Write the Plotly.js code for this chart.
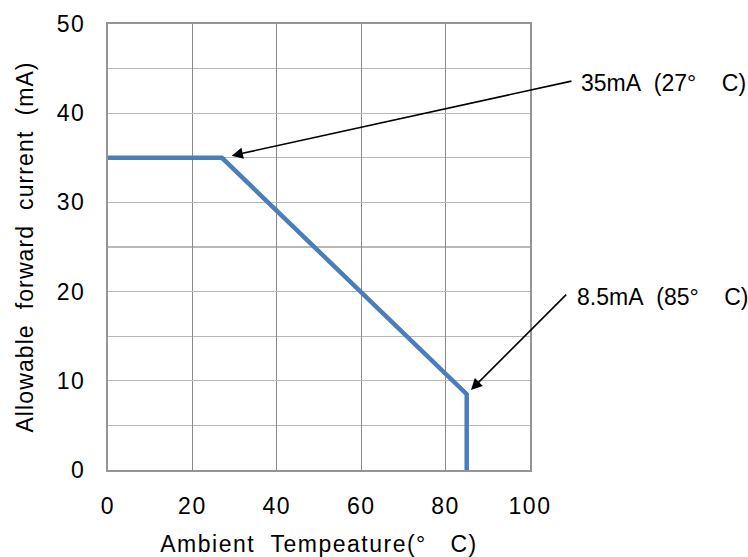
<!DOCTYPE html>
<html>
<head>
<meta charset="utf-8">
<script src="https://cdn.plot.ly/plotly-3.0.1.min.js"></script>
<style>
html,body{margin:0;padding:0;background:#fff;}
#chart{width:748px;height:557px;}
#chart .xtick text, #chart .ytick text, #chart .xtitle {letter-spacing:1.5px;}
#chart .ytitle {letter-spacing:1.1px;}
</style>
</head>
<body>
<div id="chart"></div>
<script>
// Derating curve data
const temperature = [0, 27, 85, 85];
const current = [35, 35, 8.5, 0];

const xTickVals = [0, 20, 40, 60, 80, 100];
const yTickVals = [0, 10, 20, 30, 40, 50];

const calloutText = ['35mA\u00a0 (27°\u00a0\u00a0\u00a0 C)', '8.5mA\u00a0 (85°\u00a0\u00a0\u00a0 C)'];
const calloutPointIdx = [1, 2];

const FONT = 'Liberation Sans, Arial, sans-serif';

const trace = {
  x: temperature,
  y: current,
  type: 'scatter',
  mode: 'lines',
  line: {color: '#4a7ebb', width: 4.5},
  hoverinfo: 'skip',
  cliponaxis: false
};

const arrowOffsets = [[351, -77, 10], [101, -101, 6]];
const textPos = [[1.116, 0.868], [1.107, 0.388]];

const annotations = [];
calloutPointIdx.forEach((idx, i) => {
  annotations.push({
    x: temperature[idx], y: current[idx], xref: 'x', yref: 'y',
    ax: arrowOffsets[i][0], ay: arrowOffsets[i][1],
    text: '', showarrow: true, arrowhead: 2, arrowsize: 1.4, arrowwidth: 1.6,
    arrowcolor: '#000', standoff: arrowOffsets[i][2]
  });
  annotations.push({
    x: textPos[i][0], y: textPos[i][1], xref: 'paper', yref: 'paper',
    xanchor: 'left', yanchor: 'middle', showarrow: false,
    text: calloutText[i], font: {family: FONT, size: 23, color: '#000'}
  });
});

const layout = {
  width: 748, height: 557,
  margin: {l: 108, r: 218, t: 24, b: 87, pad: 0},
  paper_bgcolor: '#fff', plot_bgcolor: '#fff',
  showlegend: false,
  font: {family: FONT, size: 23, color: '#000'},
  xaxis: {
    range: [0, 100], tickvals: xTickVals, ticktext: xTickVals.map(String),
    showgrid: true, gridcolor: '#8a8a8a', gridwidth: 1.3,
    showline: true, mirror: true, linecolor: '#959595', linewidth: 2,
    ticks: '', ticklabelstandoff: 14, zeroline: false,
    tickfont: {family: FONT, size: 23, color: '#000'},
    title: {text: 'Ambient\u00a0 Tempeature(°\u00a0\u00a0 C)', font: {family: FONT, size: 23, color: '#000'}, standoff: 24}
  },
  yaxis: {
    range: [0, 50], tickvals: yTickVals, ticktext: yTickVals.map(String),
    showgrid: true, gridcolor: '#b8b8b8', gridwidth: 1.3,
    minor: {dtick: 5, tick0: 0, showgrid: true, gridcolor: '#b8b8b8', gridwidth: 1.3, ticks: ''},
    showline: true, mirror: true, linecolor: '#959595', linewidth: 2,
    ticks: '', ticklabelstandoff: 16, zeroline: false,
    tickfont: {family: FONT, size: 23, color: '#000'},
    title: {text: 'Allowable\u00a0 forward\u00a0 current\u00a0 (mA)', font: {family: FONT, size: 23, color: '#000'}, standoff: 20}
  },
  annotations: annotations
};

Plotly.newPlot('chart', [trace], layout, {staticPlot: true, displayModeBar: false});
</script>
</body>
</html>
